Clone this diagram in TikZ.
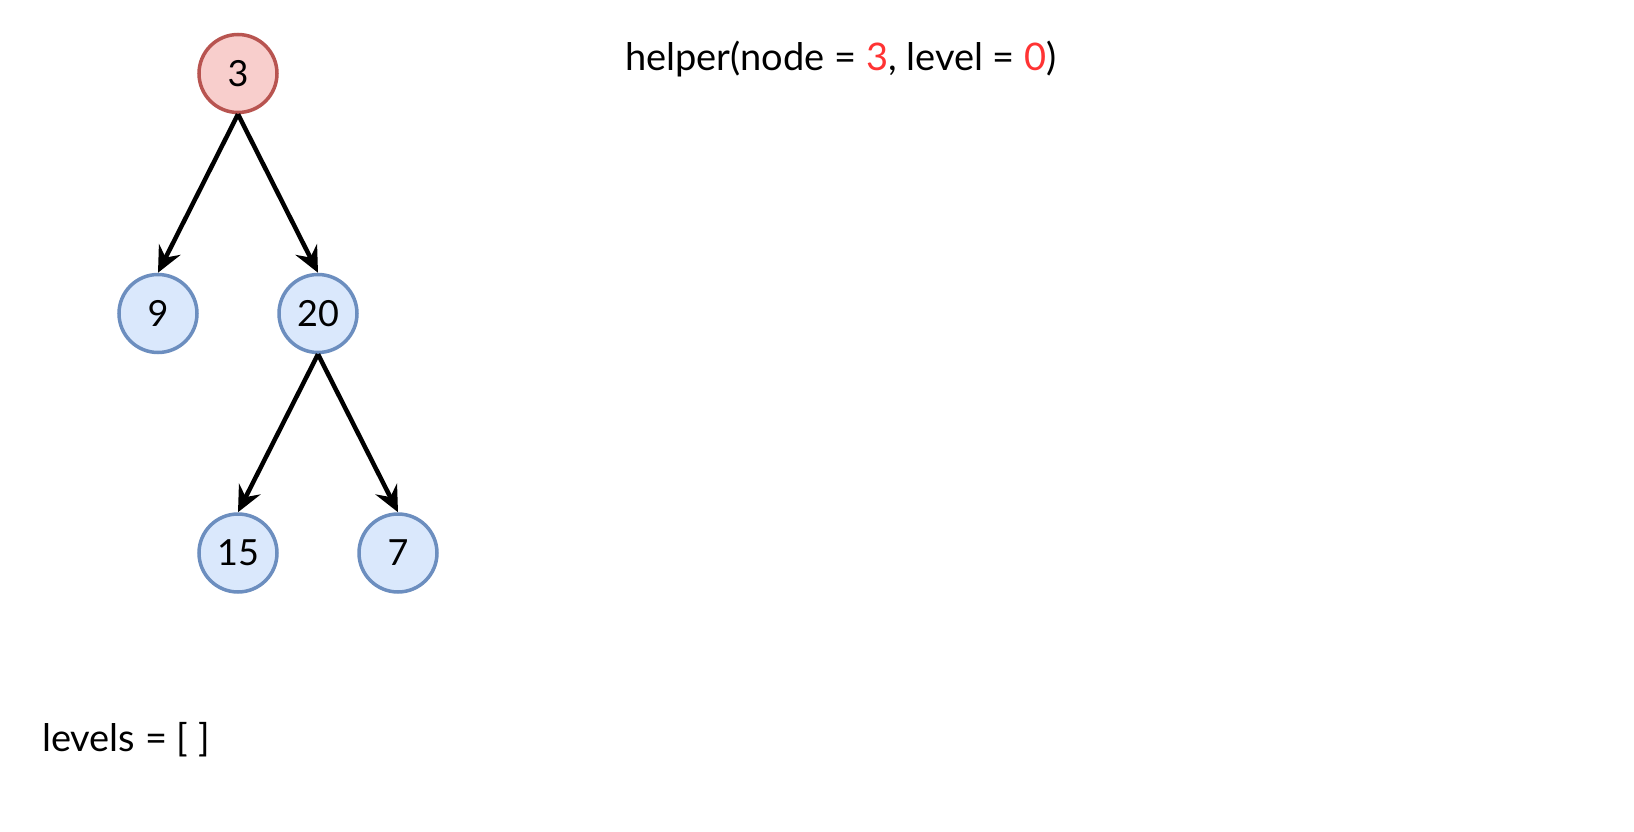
\documentclass[tikz,border=0pt]{standalone}
\usepackage{fontspec}
\setmainfont{Lato}
\usetikzlibrary{arrows.meta}
\definecolor{redfill}{HTML}{F8CECC}
\definecolor{redline}{HTML}{B85450}
\definecolor{bluefill}{HTML}{DAE8FC}
\definecolor{blueline}{HTML}{6C8EBF}
\definecolor{hl}{HTML}{FF3333}
\begin{document}
\begin{tikzpicture}[x=1pt,y=-1pt,
  treenode/.style={circle,minimum size=78pt,inner sep=0pt,line width=3.5pt,font=\fontsize{36}{40}\selectfont},
  bluenode/.style={treenode,draw=blueline,fill=bluefill},
  rednode/.style={treenode,draw=redline,fill=redfill},
  edge/.style={line width=4.5pt,-{Stealth[length=26pt,width=24pt,inset=9pt]}},
  label/.style={anchor=west,inner sep=0pt,font=\fontsize{38}{44}\selectfont}]
\useasboundingbox (0,0) rectangle (1634,832);
\node[rednode]  (n3)  at (238,73.5) {3};
\node[bluenode] (n9)  at (158,313.5) {9};
\node[bluenode] (n20) at (318,313.5) {20};
\node[bluenode] (n15) at (238,553) {15};
\node[bluenode] (n7)  at (398,553) {7};
\draw[edge] (n3.south) -- (n9.north);
\draw[edge] (n3.south) -- (n20.north);
\draw[edge] (n20.south) -- (n15.north);
\draw[edge] (n20.south) -- (n7.north);
\node[label] (call) at (625,59.5) {helper(node = \textcolor{hl}{3}, level = \textcolor{hl}{0})};
\node[label] (levels) at (42,740) {levels = [ ]};
\end{tikzpicture}
\end{document}
